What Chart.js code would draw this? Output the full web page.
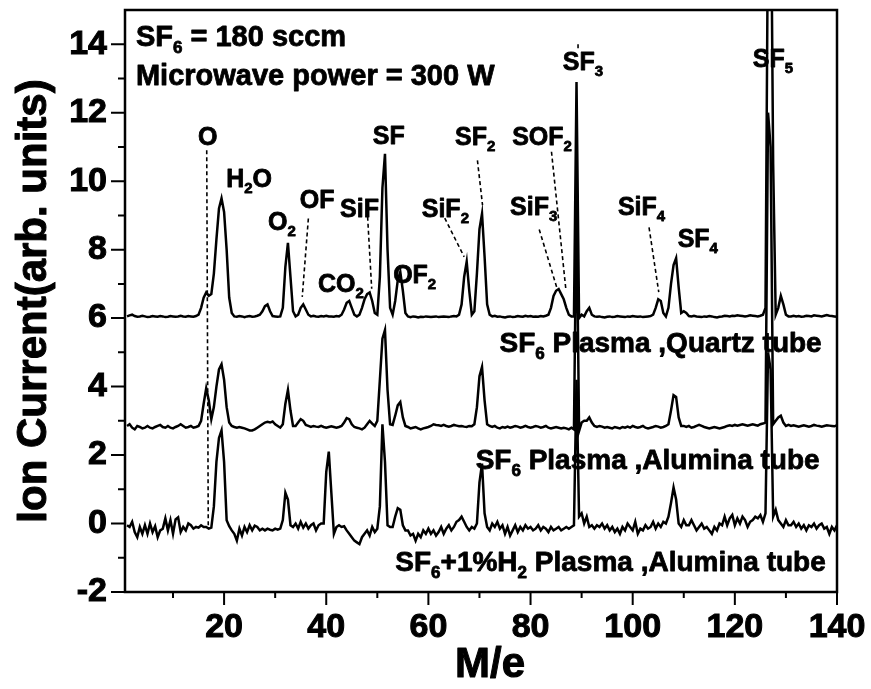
<!DOCTYPE html>
<html>
<head>
<meta charset="utf-8">
<script src="https://cdn.jsdelivr.net/npm/chart.js@4.4.1/dist/chart.umd.min.js"></script>
<style>
  html, body { margin: 0; padding: 0; background: #fff; }
  canvas { display: block; }
</style>
</head>
<body>
<canvas id="ms" width="871" height="689"></canvas>
<script>
// mass-to-charge grid (M/e), step 0.5
const mz = [
  1,1.5,2,2.5,3,3.5,4,4.5,5,5.5,6,6.5,7,7.5,8,8.5,9,9.5,10,10.5,
  11,11.5,12,12.5,13,13.5,14,14.5,15,15.5,16,16.5,17,17.5,18,18.5,19,19.5,20,20.5,
  21,21.5,22,22.5,23,23.5,24,24.5,25,25.5,26,26.5,27,27.5,28,28.5,29,29.5,30,30.5,
  31,31.5,32,32.5,33,33.5,34,34.5,35,35.5,36,36.5,37,37.5,38,38.5,39,39.5,40,40.5,
  41,41.5,42,42.5,43,43.5,44,44.5,45,45.5,46,46.5,47,47.5,48,48.5,49,49.5,50,50.5,
  51,51.5,52,52.5,53,53.5,54,54.5,55,55.5,56,56.5,57,57.5,58,58.5,59,59.5,60,60.5,
  61,61.5,62,62.5,63,63.5,64,64.5,65,65.5,66,66.5,67,67.5,68,68.5,69,69.5,70,70.5,
  71,71.5,72,72.5,73,73.5,74,74.5,75,75.5,76,76.5,77,77.5,78,78.5,79,79.5,80,80.5,
  81,81.5,82,82.5,83,83.5,84,84.5,85,85.5,86,86.5,87,87.5,88,88.5,89,89.5,90,90.5,
  91,91.5,92,92.5,93,93.5,94,94.5,95,95.5,96,96.5,97,97.5,98,98.5,99,99.5,100,100.5,
  101,101.5,102,102.5,103,103.5,104,104.5,105,105.5,106,106.5,107,107.5,108,108.5,109,109.5,110,110.5,
  111,111.5,112,112.5,113,113.5,114,114.5,115,115.5,116,116.5,117,117.5,118,118.5,119,119.5,120,120.5,
  121,121.5,122,122.5,123,123.5,124,124.5,125,125.5,126,126.5,127,127.5,128,128.5,129,129.5,130,130.5,
  131,131.5,132,132.5,133,133.5,134,134.5,135,135.5,136,136.5,137,137.5,138,138.5,139,139.5,140
];

// SF6 plasma, quartz tube
const quartz = [
  6.05,6.08,6.1,6.06,6.04,6.05,6.07,6.05,6.03,6.04,6.06,6.05,6.04,6.06,6.05,6.03,6.04,6.06,6.05,6.04,
  6.05,6.07,6.05,6.04,6.06,6.05,6.04,6.06,6.1,6.3,6.6,6.75,6.65,6.7,7.3,8.3,9.2,9.5,9.1,8.0,
  6.6,6.15,6.05,6.04,6.06,6.05,6.03,6.05,6.06,6.04,6.05,6.07,6.1,6.2,6.35,6.4,6.2,6.06,6.05,6.04,
  6.05,6.3,7.5,8.2,7.2,6.2,6.05,6.1,6.3,6.4,6.25,6.1,6.05,6.07,6.05,6.04,6.06,6.05,6.07,6.05,
  6.05,6.04,6.06,6.05,6.1,6.25,6.45,6.5,6.3,6.1,6.05,6.1,6.3,6.55,6.7,6.75,6.5,6.15,6.1,7.2,
  9.8,10.8,8.0,6.3,6.1,6.5,7.1,7.35,6.8,6.15,6.05,6.03,6.05,6.04,6.02,6.04,6.03,6.05,6.04,6.03,
  6.04,6.05,6.03,6.04,6.05,6.04,6.03,6.05,6.06,6.05,6.1,6.4,7.2,7.65,6.8,6.1,6.2,7.3,8.6,9.05,
  7.8,6.4,6.1,6.05,6.07,6.04,6.05,6.03,6.02,6.04,6.05,6.03,6.04,6.06,6.05,6.04,6.07,6.05,6.06,6.04,
  6.05,6.04,6.06,6.05,6.07,6.1,6.3,6.65,6.8,6.85,6.7,6.55,6.3,6.1,6.05,6.05,12.9,6.0,6.1,6.05,
  6.2,6.3,6.1,6.05,6.04,6.05,6.03,6.02,6.04,6.05,6.03,6.04,6.06,6.05,6.04,6.03,6.05,6.04,6.06,6.05,
  6.04,6.05,6.03,6.04,6.05,6.06,6.1,6.3,6.55,6.5,6.15,6.05,6.3,7.0,7.55,7.75,6.9,6.15,6.2,6.15,
  6.06,6.05,6.07,6.05,6.04,6.03,6.05,6.04,6.06,6.05,6.03,6.02,6.04,6.05,6.07,6.06,6.05,6.07,6.06,6.08,
  6.07,6.06,6.05,6.06,6.08,6.07,6.06,6.05,6.07,6.1,6.3,18,20,10.5,6.1,6.3,6.65,6.4,6.1,6.05,
  6.05,6.07,6.05,6.06,6.04,6.05,6.07,6.06,6.05,6.08,6.07,6.06,6.05,6.07,6.09,6.07,6.06,6.05,6.04
];

// SF6 plasma, alumina tube
const alumina = [
  2.85,2.9,2.8,2.75,2.85,2.82,2.78,2.8,2.85,2.8,2.78,2.82,2.85,2.88,2.82,2.8,2.85,2.8,2.78,2.82,
  2.85,2.9,2.85,2.8,2.82,2.85,2.8,2.82,2.85,3.0,3.5,3.95,3.6,3.05,3.4,4.0,4.5,4.65,4.2,3.4,
  2.95,2.85,2.82,2.8,2.82,2.8,2.78,2.75,2.72,2.72,2.75,2.8,2.85,2.9,2.95,2.97,2.95,2.98,2.9,2.85,
  2.8,2.9,3.5,3.9,3.3,2.85,2.85,2.95,3.05,3.0,2.88,2.85,2.82,2.85,2.83,2.82,2.85,2.82,2.8,2.82,
  2.84,2.82,2.8,2.82,2.85,2.95,3.08,3.05,2.9,2.82,2.8,2.78,2.75,2.8,2.9,3.0,2.92,2.85,3.0,4.2,
  5.4,5.65,3.9,2.9,2.88,3.15,3.45,3.55,3.1,2.85,2.82,2.78,2.8,2.82,2.78,2.75,2.78,2.8,2.82,2.85,
  2.9,2.88,2.87,2.85,2.88,2.85,2.83,2.85,2.88,2.86,2.84,2.85,2.83,2.82,2.85,2.84,2.9,3.4,4.3,4.57,
  3.6,2.9,2.85,2.82,2.85,2.8,2.78,2.82,2.8,2.83,2.8,2.82,2.85,2.83,2.8,2.82,2.85,2.82,2.8,2.82,
  2.85,2.83,2.8,2.82,2.85,2.8,2.78,2.8,2.82,2.8,2.78,2.8,2.78,2.75,2.8,2.75,9.5,2.7,2.95,3.0,
  3.0,3.1,2.95,2.85,2.82,2.85,2.83,2.8,2.82,2.8,2.78,2.82,2.8,2.78,2.82,2.8,2.83,2.8,2.85,2.82,
  2.8,2.82,2.85,2.8,2.78,2.8,2.82,2.85,2.83,2.8,2.82,2.85,2.9,3.3,3.75,3.7,3.1,2.85,2.85,2.82,
  2.85,2.8,2.82,2.85,2.88,2.85,2.82,2.8,2.78,2.8,2.82,2.8,2.78,2.8,2.82,2.85,2.87,2.85,2.88,2.86,
  2.88,2.9,2.88,2.86,2.88,2.9,2.88,2.86,2.9,2.92,2.95,12.0,11.0,2.9,3.0,3.1,3.15,2.95,2.85,2.88,
  2.85,2.87,2.85,2.83,2.85,2.87,2.85,2.83,2.85,2.88,2.86,2.85,2.83,2.85,2.87,2.86,2.85,2.84,2.87
];

// SF6 + 1% H2 plasma, alumina tube
const hydrogen = [
  -0.05,-0.1,0.05,-0.25,-0.4,-0.1,-0.3,-0.05,-0.3,0.0,-0.25,-0.08,-0.4,-0.2,-0.15,0.15,-0.2,0.1,-0.3,0.12,
  0.18,-0.25,-0.1,-0.2,0.0,-0.05,-0.15,-0.1,-0.12,-0.05,-0.1,-0.1,-0.15,-0.12,0.5,1.8,2.5,2.72,1.8,0.1,
  -0.08,-0.2,-0.3,-0.5,-0.15,-0.35,-0.1,-0.25,-0.05,-0.2,-0.06,-0.1,-0.2,-0.15,-0.2,-0.15,-0.18,-0.2,-0.15,-0.18,
  -0.15,0.1,0.9,0.7,-0.05,-0.1,0.0,-0.15,0.05,-0.12,0.0,-0.15,-0.05,0.0,-0.2,-0.05,0.0,0.0,1.5,2.1,
  0.9,-0.3,-0.1,-0.05,-0.1,-0.08,-0.2,-0.3,-0.4,-0.5,-0.55,-0.6,-0.4,-0.3,-0.2,-0.35,-0.1,-0.25,-0.15,0.5,
  2.9,1.8,-0.05,-0.1,-0.1,0.2,0.45,0.4,-0.05,-0.2,-0.2,-0.35,-0.3,-0.5,-0.3,-0.4,-0.2,-0.3,-0.15,-0.3,
  -0.2,-0.35,-0.25,-0.1,-0.3,-0.15,-0.05,-0.2,-0.1,0.05,0.1,0.2,0.05,-0.1,-0.2,-0.1,-0.15,0.0,1.2,1.75,
  0.3,-0.1,-0.2,0.0,-0.1,0.05,-0.15,-0.05,-0.3,-0.1,-0.35,-0.2,-0.05,-0.25,-0.1,-0.2,-0.05,-0.15,-0.1,-0.2,
  -0.15,-0.05,-0.2,-0.1,-0.15,-0.25,-0.1,-0.2,-0.15,-0.1,-0.2,-0.15,-0.1,-0.15,-0.1,-0.05,4.2,0.2,0.3,0.0,
  0.2,-0.1,-0.05,-0.15,-0.05,-0.1,0.0,-0.15,-0.05,-0.2,-0.1,-0.25,-0.15,-0.3,-0.1,-0.2,0.0,-0.1,-0.2,0.05,
  -0.3,-0.15,-0.2,-0.05,-0.15,-0.1,0.05,-0.15,0.0,-0.1,0.05,0.0,0.2,0.6,1.05,0.7,0.0,-0.1,0.1,-0.05,
  -0.05,0.1,-0.05,-0.2,-0.1,0.0,-0.15,-0.1,-0.2,-0.3,-0.1,-0.2,0.0,-0.05,0.2,-0.05,0.15,0.25,-0.05,0.15,
  0.0,0.2,0.1,-0.1,0.05,0.1,0.2,0.15,0.25,0.05,0.3,5.0,4.5,0.2,0.4,0.1,0.0,-0.1,0.1,-0.05,
  -0.05,0.05,-0.1,0.0,-0.15,-0.05,-0.2,-0.05,-0.1,0.0,-0.15,-0.05,0.0,-0.15,-0.1,-0.3,-0.1,-0.2,-0.05
];

const xMajor = [20, 40, 60, 80, 100, 120, 140];
const xMinor = [10, 30, 50, 70, 90, 110, 130];
const yMajor = [-2, 0, 2, 4, 6, 8, 10, 12, 14];
const yMinor = [-1, 1, 3, 5, 7, 9, 11, 13];

// "_" marks a subscript character
const peakNames = ['O', 'H_2O', 'O_2', 'OF', 'SiF', 'CO_2', 'SF', 'OF_2', 'SiF_2', 'SF_2', 'SOF_2', 'SiF_3', 'SF_3', 'SiF_4', 'SF_4', 'SF_5'];
const traceNames = ['SF_6 Plasma ,Quartz tube', 'SF_6 Plasma ,Alumina tube', 'SF_6+1%H_2 Plasma ,Alumina tube'];
const conditions = ['SF_6 = 180 sccm', 'Microwave power = 300 W'];

// label anchors in data units [x, y, align]
const peakAt = [
  [16.8, 11.05, 'center'], [20.4, 9.82, 'left'], [28.6, 8.57, 'left'], [34.8, 9.21, 'left'],
  [42.7, 8.95, 'left'], [38.4, 6.75, 'left'], [49.1, 11.1, 'left'], [53.1, 7.02, 'left'],
  [58.7, 8.95, 'left'], [65.2, 11.05, 'left'], [76.4, 11.05, 'left'], [76.0, 9.0, 'left'],
  [86.3, 13.25, 'left'], [97.1, 9.0, 'left'], [108.8, 8.07, 'left'], [123.5, 13.33, 'left']
];
const traceAt = [[137, 5.0], [136.6, 1.58], [137.8, -1.4]];
const conditionAt = [[2.74, 13.95], [2.74, 12.8]];
const leaders = [
  [16.6, 10.9, 16.9, -0.05], [36.5, 8.91, 35.3, 6.62], [48.1, 8.96, 48.9, 6.86],
  [63.2, 8.92, 67.0, 7.79], [69.6, 10.61, 70.6, 9.3], [84.1, 10.86, 86.9, 6.86],
  [81.7, 8.59, 85.1, 6.91], [103.2, 8.65, 105.1, 6.76], [89.3, 14.0, 89.3, 13.86]
];

const FONT = '"Liberation Sans", Arial, Helvetica, sans-serif';

function splitSub(text) {
  const out = [];
  let buf = '';
  for (let i = 0; i < text.length; i++) {
    if (text[i] === '_') {
      if (buf) out.push({ t: buf, sub: false });
      buf = '';
      out.push({ t: text[i + 1], sub: true });
      i++;
    } else {
      buf += text[i];
    }
  }
  if (buf) out.push({ t: buf, sub: false });
  return out;
}

// bold text with subscripts, slightly stroked to look heavier
function drawRich(ctx, text, x, y, size, align) {
  const segs = splitSub(text);
  const subSize = Math.round(size * 0.6);
  let w = 0;
  segs.forEach(s => {
    ctx.font = `bold ${s.sub ? subSize : size}px ${FONT}`;
    s.w = ctx.measureText(s.t).width;
    w += s.w;
  });
  let cx = align === 'right' ? x - w : align === 'center' ? x - w / 2 : x;
  ctx.textAlign = 'left';
  ctx.textBaseline = 'alphabetic';
  ctx.lineWidth = 0.8;
  ctx.lineJoin = 'round';
  segs.forEach(s => {
    ctx.font = `bold ${s.sub ? subSize : size}px ${FONT}`;
    const ty = s.sub ? y + size * 0.24 : y;
    ctx.fillText(s.t, cx, ty);
    ctx.strokeText(s.t, cx, ty);
    cx += s.w;
  });
}

// no extra label padding: the plot box is fixed by layout padding
const noPad = s => { s.paddingTop = 0; s.paddingBottom = 0; s.paddingLeft = 0; s.paddingRight = 0; };

const decor = {
  id: 'decor',
  afterDatasetsDraw(chart) {
    const { ctx, chartArea: a, scales: { x, y } } = chart;
    ctx.save();
    ctx.strokeStyle = '#000';
    ctx.fillStyle = '#000';

    // frame
    ctx.lineWidth = 2.5;
    ctx.strokeRect(a.left, a.top, a.right - a.left, a.bottom - a.top);

    // tick marks, outside
    ctx.lineWidth = 2;
    ctx.beginPath();
    xMajor.forEach(v => { const p = x.getPixelForValue(v); ctx.moveTo(p, a.bottom); ctx.lineTo(p, a.bottom + 13); });
    xMinor.forEach(v => { const p = x.getPixelForValue(v); ctx.moveTo(p, a.bottom); ctx.lineTo(p, a.bottom + 6); });
    yMajor.forEach(v => { const p = y.getPixelForValue(v); ctx.moveTo(a.left, p); ctx.lineTo(a.left - 14, p); });
    yMinor.forEach(v => { const p = y.getPixelForValue(v); ctx.moveTo(a.left, p); ctx.lineTo(a.left - 7, p); });
    ctx.stroke();

    // dashed leader lines
    ctx.lineWidth = 1.6;
    ctx.setLineDash([4, 3]);
    ctx.beginPath();
    leaders.forEach(([x1, y1, x2, y2]) => {
      ctx.moveTo(x.getPixelForValue(x1), y.getPixelForValue(y1));
      ctx.lineTo(x.getPixelForValue(x2), y.getPixelForValue(y2));
    });
    ctx.stroke();
    ctx.setLineDash([]);

    peakNames.forEach((t, i) => {
      const [px, py, al] = peakAt[i];
      drawRich(ctx, t, x.getPixelForValue(px), y.getPixelForValue(py), 25, al);
    });
    traceNames.forEach((t, i) => {
      const [px, py] = traceAt[i];
      drawRich(ctx, t, x.getPixelForValue(px), y.getPixelForValue(py), 28, 'right');
    });
    conditions.forEach((t, i) => {
      const [px, py] = conditionAt[i];
      drawRich(ctx, t, x.getPixelForValue(px), y.getPixelForValue(py), 29, 'left');
    });

    // axis titles
    ctx.font = `bold 42px ${FONT}`;
    ctx.textAlign = 'center';
    ctx.textBaseline = 'alphabetic';
    ctx.lineWidth = 1;
    ctx.fillText('M/e', (a.left + a.right) / 2 + 9, 677);
    ctx.strokeText('M/e', (a.left + a.right) / 2 + 9, 677);
    ctx.translate(46, (a.top + a.bottom) / 2);
    ctx.rotate(-Math.PI / 2);
    ctx.fillText('Ion Current(arb. units)', 0, 0);
    ctx.strokeText('Ion Current(arb. units)', 0, 0);
    ctx.restore();
  }
};

const line = (vals) => ({
  data: mz.map((m, i) => ({ x: m, y: vals[i] })),
  borderColor: '#000',
  borderWidth: 2.5,
  pointRadius: 0,
  tension: 0,
  fill: false
});

new Chart(document.getElementById('ms'), {
  type: 'line',
  data: {
    datasets: [line(quartz), line(alumina), line(hydrogen)]
  },
  options: {
    responsive: false,
    animation: false,
    layout: { padding: { top: 10, right: 34, left: 0, bottom: 0 } },
    plugins: {
      legend: { display: false },
      tooltip: { enabled: false }
    },
    scales: {
      x: {
        type: 'linear',
        min: 0.6,
        max: 140,
        afterBuildTicks: s => { s.ticks = xMajor.map(v => ({ value: v })); },
        afterFit: s => { s.height = 97; noPad(s); },
        grid: { display: false, drawTicks: false },
        border: { display: false },
        ticks: {
          color: '#000',
          padding: 15,
          maxRotation: 0,
          textStrokeColor: '#000',
          textStrokeWidth: 1,
          font: { family: FONT, size: 34, weight: 'bold' }
        }
      },
      y: {
        min: -2,
        max: 15,
        afterBuildTicks: s => { s.ticks = yMajor.map(v => ({ value: v })); },
        afterFit: s => { s.width = 125; noPad(s); },
        grid: { display: false, drawTicks: false },
        border: { display: false },
        ticks: {
          color: '#000',
          padding: 18,
          textStrokeColor: '#000',
          textStrokeWidth: 1,
          font: { family: FONT, size: 34, weight: 'bold' }
        }
      }
    }
  },
  plugins: [decor]
});
</script>
</body>
</html>
